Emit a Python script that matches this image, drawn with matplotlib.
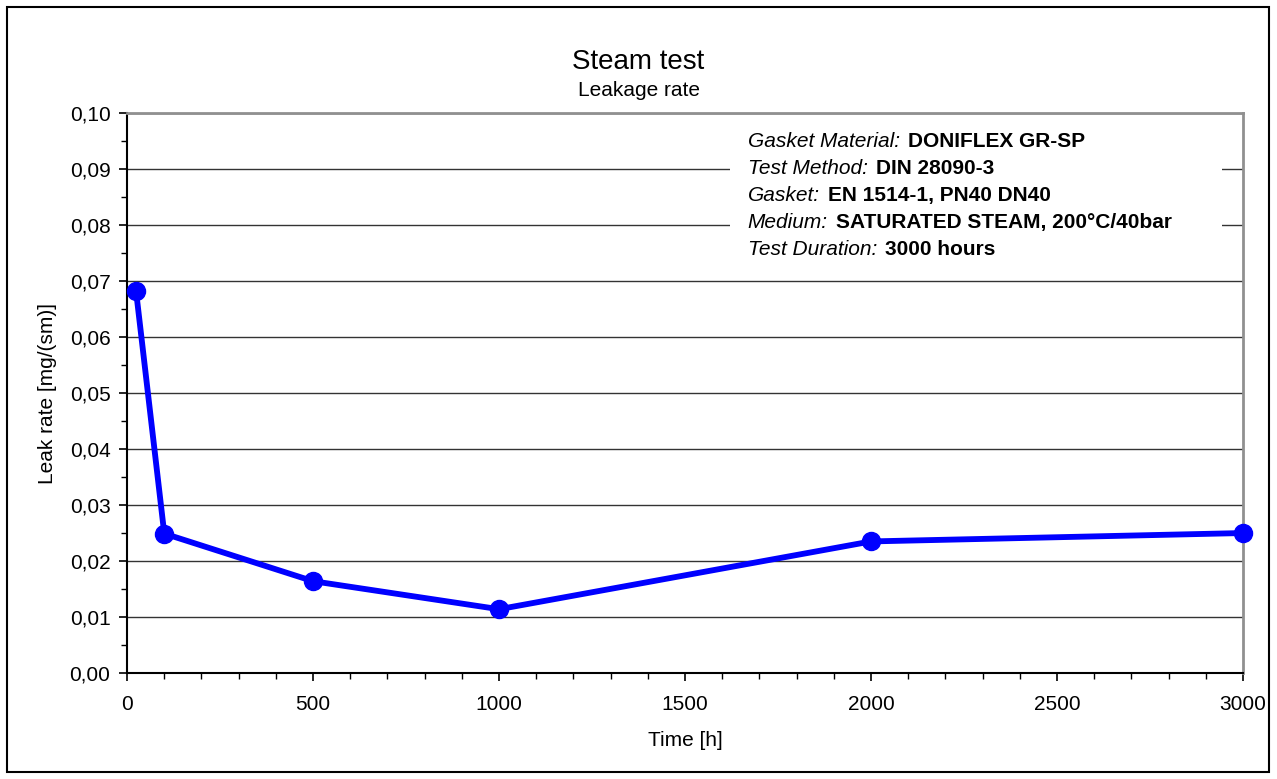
import numpy as np
import matplotlib as mpl
import matplotlib.pyplot as plt
from matplotlib.patches import Rectangle

mpl.rc('font', family=['Liberation Sans', 'DejaVu Sans'])

# data
time_h = [24, 100, 500, 1000, 2000, 3000]
leak_rate = [0.0683, 0.0249, 0.0164, 0.0114, 0.0235, 0.0250]

info_labels = ['Gasket Material:', 'Test Method:', 'Gasket:', 'Medium:', 'Test Duration:']
info_values = ['DONIFLEX GR-SP', 'DIN 28090-3', 'EN 1514-1, PN40 DN40',
               'SATURATED STEAM, 200°C/40bar', '3000 hours']

y_ticks = np.arange(0, 0.1001, 0.01)
y_ticklabels = [f'{v:.2f}'.replace('.', ',') for v in y_ticks]

fig = plt.figure(figsize=(12.77, 7.79), dpi=100)
ax = fig.add_axes([0.0995, 0.136, 0.8739, 0.719])

ax.set_xlim(0, 3000)
ax.set_ylim(0, 0.10)
ax.set_xticks([0, 500, 1000, 1500, 2000, 2500, 3000])
ax.set_xticks(np.arange(0, 3001, 100), minor=True)
ax.set_yticks(y_ticks)
ax.set_yticklabels(y_ticklabels)
ax.set_yticks(np.arange(0, 0.1001, 0.005), minor=True)
ax.tick_params(which='major', direction='out', length=6, width=1.2, labelsize=15, pad=6)
ax.tick_params(which='minor', direction='out', length=4, width=1.0)
ax.tick_params(axis='x', pad=10)

ax.grid(axis='y', which='major', color='#333333', linewidth=1.0, zorder=1)
ax.set_axisbelow(True)

for side in ['left', 'bottom']:
    ax.spines[side].set_color('black')
    ax.spines[side].set_linewidth(1.5)
for side in ['top', 'right']:
    ax.spines[side].set_color('#909090')
    ax.spines[side].set_linewidth(2)

# white box behind the info text
ax.add_patch(Rectangle((0.540, 0.734), 0.441, 0.245, transform=ax.transAxes,
                       facecolor='white', edgecolor='none', zorder=2))

ax.plot(time_h, leak_rate, color='#0000FF', linewidth=4.2, marker='o',
        markersize=13, zorder=4, clip_on=False)

for i, (lab, val) in enumerate(zip(info_labels, info_values)):
    y = 0.949 - i * 0.0482
    t = ax.text(0.556, y, lab, transform=ax.transAxes, fontsize=15,
                style='italic', va='center', ha='left', zorder=3)
    ax.annotate(val, xy=(1, 0.5), xycoords=t, xytext=(6, 0),
                textcoords='offset points', fontsize=15, fontweight='bold',
                va='center', ha='left', zorder=3)

ax.set_xlabel('Time [h]', fontsize=15, labelpad=12)
ax.set_ylabel('Leak rate [mg/(sm)]', fontsize=15, labelpad=9)

fig.text(0.5, 0.92, 'Steam test', ha='center', va='center', fontsize=20)
fig.text(0.5, 0.884, 'Leakage rate', ha='center', va='center', fontsize=15)

fig.patches.append(Rectangle((7 / 1277, 7 / 779), 1262 / 1277, 765 / 779,
                             transform=fig.transFigure, fill=False,
                             edgecolor='black', linewidth=1.5))

fig.savefig('out.png', dpi=100)
